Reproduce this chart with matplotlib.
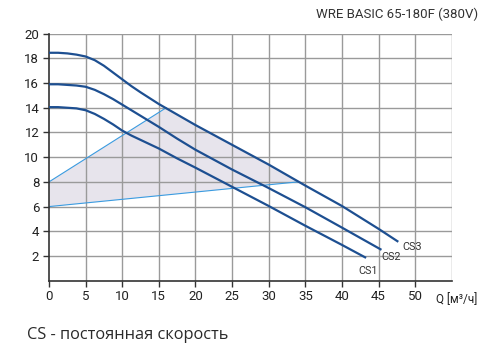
import matplotlib.pyplot as plt

# curve data (Q in m3/h, H in m)
cs3_q = [0, 1.25, 2.5, 3.75, 5, 6.25, 7.5, 8.75, 10, 11.25, 12.5, 15, 17.5, 20, 25, 30, 35, 40, 45, 47.7]
cs3_h = [18.45, 18.45, 18.4, 18.3, 18.15, 17.85, 17.4, 16.85, 16.3, 15.75, 15.25, 14.3, 13.45, 12.6,
         11.0, 9.4, 7.7, 6.05, 4.2, 3.15]

cs2_q = [0, 1.25, 2.5, 3.75, 5, 6.25, 7.5, 8.75, 10, 11.25, 12.5, 15, 17.5, 20, 25, 30, 35, 40, 45.4]
cs2_h = [15.9, 15.9, 15.85, 15.8, 15.7, 15.45, 15.1, 14.7, 14.25, 13.8, 13.35, 12.45, 11.5, 10.6,
         9.0, 7.5, 5.95, 4.3, 2.5]

cs1_q = [0, 1.25, 2.5, 3.75, 5, 6.25, 7.5, 8.75, 10, 11.25, 12.5, 15, 17.5, 20, 25, 30, 35, 40, 43.3]
cs1_h = [14.05, 14.05, 14.0, 13.95, 13.8, 13.5, 13.1, 12.65, 12.15, 11.75, 11.4, 10.7, 9.9, 9.15,
         7.6, 6.05, 4.45, 2.9, 1.85]

# working area (shaded)
area_q = [0, 16, 17.5, 20, 25, 30, 34, 0]
area_h = [8, 14, 13.45, 12.6, 11.0, 9.4, 8.0, 6]
upper_q = [0, 16]
upper_h = [8, 14]
lower_q = [0, 34]
lower_h = [6, 8]

labels = ['CS1', 'CS2', 'CS3']
label_q = [42.2, 45.4, 48.2]
label_h = [0.8, 1.9, 2.75]

x_ticks = [0, 5, 10, 15, 20, 25, 30, 35, 40, 45, 50]
y_ticks = [2, 4, 6, 8, 10, 12, 14, 16, 18, 20]

title = 'WRE BASIC 65-180F (380V)'
caption = 'CS - постоянная скорость'

navy = '#1d4f91'
light = '#3a9be0'
grid_c = '#9a9a9a'
dark = '#333333'

fig = plt.figure(figsize=(4.9, 3.54), dpi=100)
ax = fig.add_axes([0.100, 0.207, 0.822, 0.698])

ax.fill(area_q, area_h, color='#e7e4ec', zorder=0.2, lw=0)
ax.plot(upper_q, upper_h, color=light, lw=0.8, zorder=2)
ax.plot(lower_q, lower_h, color=light, lw=0.8, zorder=2)

for q, h in [(cs1_q, cs1_h), (cs2_q, cs2_h), (cs3_q, cs3_h)]:
    ax.plot(q, h, color=navy, lw=1.6, zorder=3, solid_capstyle='butt', solid_joinstyle='round')

for t, q, h in zip(labels, label_q, label_h):
    ax.text(q, h, t, fontsize=7.8, color=dark, ha='left', va='center', family='Roboto')

ax.set_xlim(0, 55)
ax.set_ylim(0, 20)

# grid
for v in range(5, 56, 5):
    ax.axvline(v, color=grid_c, lw=1.0, zorder=0.5)
for v in y_ticks:
    ax.axhline(v, color=grid_c, lw=1.0, zorder=0.5)

ax.set_xticks(x_ticks)
ax.set_yticks(y_ticks)
ax.set_xticklabels([str(v) for v in x_ticks], family='Roboto', fontsize=9.5, color='#222222')
ax.set_yticklabels([str(v) for v in y_ticks], family='Roboto', fontsize=9.5, color='#222222')
ax.tick_params(direction='out', length=4, width=1, color=dark, pad=3)

for s in ['top', 'right']:
    ax.spines[s].set_visible(False)
ax.spines['left'].set_color(dark)
ax.spines['bottom'].set_color(dark)
ax.spines['left'].set_linewidth(1.2)
ax.spines['bottom'].set_linewidth(1.2)

ax.text(52.9, -1.55, 'Q [м³/ч]', fontsize=8.5, color='#222222', ha='left', va='center',
        family='Roboto')

fig.text(0.976, 0.960, title, fontsize=9.5, color=dark, ha='right', va='center', family='Roboto')
fig.text(0.055, 0.054, caption, fontsize=11.8, color='#2a2a2a', ha='left', va='center',
         family='Open Sans')

fig.savefig('out.png', dpi=100)
